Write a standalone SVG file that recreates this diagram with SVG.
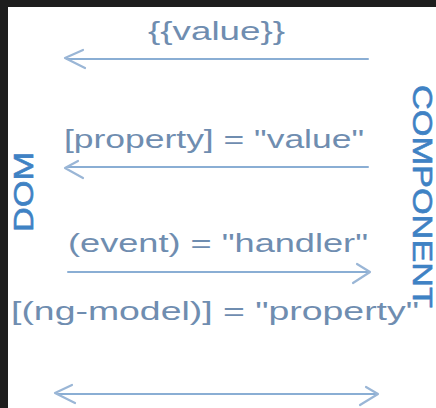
<svg xmlns="http://www.w3.org/2000/svg" width="436" height="408" viewBox="0 0 436 408">
  <defs>
    <style>
      .expr { font-family: "Liberation Sans", "DejaVu Sans", sans-serif; font-size: 26px; fill: #6f8db0; }
      .side { font-family: "Liberation Sans", "DejaVu Sans", sans-serif; font-size: 27px; fill: #3f82c4; stroke: #3f82c4; stroke-width: 0.6; }
      .ln { stroke: #8aaed4; stroke-width: 2; fill: none; stroke-linecap: round; stroke-linejoin: round; }
      .hd { stroke: #9ab6d6; stroke-width: 2.2; fill: none; stroke-linecap: round; stroke-linejoin: round; }
    </style>
  </defs>
  <rect x="0" y="0" width="436" height="408" fill="#ffffff"/>
  <rect x="0" y="0" width="436" height="7" fill="#1e1e1e"/>
  <rect x="0" y="0" width="8" height="408" fill="#1e1e1e"/>

  <g id="connectors">
    <g id="arrow-interpolation">
      <line class="ln" x1="67" y1="59" x2="368" y2="59"/>
      <polyline class="hd" points="83,50 65,58 85,68"/>
    </g>
    <g id="arrow-property">
      <line class="ln" x1="67" y1="167" x2="368" y2="167"/>
      <polyline class="hd" points="78,161 65,168 83,178"/>
    </g>
    <g id="arrow-event">
      <line class="ln" x1="68" y1="272" x2="368" y2="272"/>
      <polyline class="hd" points="357,264 370,272 353,283"/>
    </g>
    <g id="arrow-ngmodel">
      <line class="ln" x1="58" y1="394" x2="376" y2="394"/>
      <polyline class="hd" points="72,385 55,393 75,403"/>
      <polyline class="hd" points="366,387 378,394 360,405"/>
    </g>
  </g>

  <g id="label-interpolation">
    <text class="expr" x="148" y="40" textLength="137" lengthAdjust="spacingAndGlyphs">{{value}}</text>
  </g>
  <g id="label-property">
    <text class="expr" x="64" y="148" textLength="300" lengthAdjust="spacingAndGlyphs">[property] = "value"</text>
  </g>
  <g id="label-event">
    <text class="expr" x="68" y="252" textLength="300" lengthAdjust="spacingAndGlyphs">(event) = "handler"</text>
  </g>
  <g id="label-ngmodel">
    <text class="expr" x="11" y="320" textLength="408" lengthAdjust="spacingAndGlyphs">[(ng-model)] = "property"</text>
  </g>

  <g id="node-dom">
    <text class="side" transform="translate(33,232) rotate(-90)" x="0" y="0" textLength="80" lengthAdjust="spacingAndGlyphs">DOM</text>
  </g>
  <g id="node-component">
    <text class="side" transform="translate(413,85) rotate(90)" x="0" y="0" textLength="223" lengthAdjust="spacingAndGlyphs">COMPONENT</text>
  </g>
</svg>
